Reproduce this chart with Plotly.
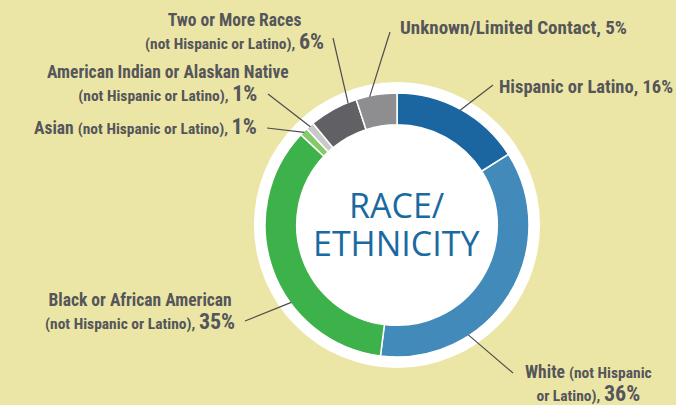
import numpy as np
import plotly.graph_objects as go

W, H = 676, 405

# ---- data ----
groups = ["Hispanic or Latino", "White", "Black or African American", "Asian",
          "American Indian or Alaskan Native", "Two or More Races", "Unknown/Limited Contact"]
shares = [16, 36, 35, 1, 1, 6, 5]
colors = ["#1B65A0", "#418AB9", "#3DB14A", "#86C96A", "#C9C9C9", "#616165", "#8E8E91"]

SMALL = '<span style="font-size:15.5px">'
PCT = '<span style="font-size:22px">'
label_text = [
    "<b>Hispanic or Latino, 16%</b>",
    "<b>White " + SMALL + "(not Hispanic</span><br>" + SMALL + "or Latino), </span>" + PCT + "36%</span></b>",
    "<b>Black or African American<br>" + SMALL + "(not Hispanic or Latino), </span>" + PCT + "35%</span></b>",
    "<b>Asian " + SMALL + "(not Hispanic or Latino), </span>" + PCT + "1%</span></b>",
    "<b>American Indian or Alaskan Native<br>" + SMALL + "(not Hispanic or Latino), </span>" + PCT + "1%</span></b>",
    "<b>Two or More Races<br>" + SMALL + "(not Hispanic or Latino), </span>" + PCT + "6%</span></b>",
    "<b>Unknown/Limited Contact, 5%</b>",
]

# ---- layout (pixels) ----
cx, cy, r_ring, r_white = 397, 225, 132, 143
hole = 0.76
# where each leader line meets the ring, as a fraction along its slice
attach = [0.5, 0.69, 0.37, 0.5, 0.5, 0.82, 0.33]
# outer end of leader line, label anchor point, xanchor, font size
label_pos = [
    ((493, 85), (497, 87), "left", 18.5),
    ((513, 373), (588, 384), "center", 17.5),
    ((245, 321), (140, 312), "center", 17.5),
    ((267, 128), (259, 127), "right", 17.5),
    ((268, 94), (168, 84), "center", 17.5),
    ((333, 38), (234, 32), "center", 17.5),
    ((390, 32), (398, 28), "left", 19),
]

TEXT_COLOR = "#55565A"
LABEL_FONT = "Liberation Sans Narrow, Roboto Condensed, DejaVu Sans Condensed, sans-serif"


def px(x):
    return x / W


def py(y):
    return 1 - y / H


def domain(r):
    return dict(x=[px(cx - r), px(cx + r)], y=[py(cy + r), py(cy - r)])


fig = go.Figure()

# white backing disc behind the ring
fig.add_trace(go.Pie(values=[1], marker=dict(colors=["white"], line=dict(width=0)),
                     domain=domain(r_white), textinfo="none", hoverinfo="skip",
                     showlegend=False, sort=False))

fig.add_trace(go.Pie(labels=groups, values=shares, hole=hole, sort=False,
                     direction="clockwise", rotation=0,
                     marker=dict(colors=colors, line=dict(color="white", width=1.5)),
                     domain=domain(r_ring), textinfo="none", showlegend=False))

# leader lines + labels
cum = np.concatenate([[0], np.cumsum(shares)]) / np.sum(shares)
shapes = []
annotations = []
for i, txt in enumerate(label_text):
    frac = cum[i] + attach[i] * (cum[i + 1] - cum[i])
    ang = 2 * np.pi * frac
    x0 = cx + (r_ring - 1) * np.sin(ang)
    y0 = cy - (r_ring - 1) * np.cos(ang)
    (x1, y1), (lx, ly), xa, fs = label_pos[i]
    shapes.append(dict(type="line", xref="paper", yref="paper",
                       x0=px(x0), y0=py(y0), x1=px(x1), y1=py(y1),
                       line=dict(color="#4D4D4F", width=1.2)))
    annotations.append(dict(text=txt, x=px(lx), y=py(ly), xref="paper", yref="paper",
                            xanchor=xa, yanchor="middle", align=xa,
                            showarrow=False, font=dict(family=LABEL_FONT, size=fs, color=TEXT_COLOR)))

# centre title, one annotation per line to keep the tight leading
for txt, yy in [("RACE/", cy - 20), ("ETHNICITY", cy + 18)]:
    annotations.append(dict(text=txt, x=px(cx), y=py(yy), xref="paper", yref="paper",
                            xanchor="center", yanchor="middle", showarrow=False,
                            font=dict(family="Open Sans, sans-serif", size=34, color="#1A6AA0")))

fig.update_layout(width=W, height=H, margin=dict(l=0, r=0, t=0, b=0),
                  paper_bgcolor="#ECE6A6", plot_bgcolor="#ECE6A6",
                  shapes=shapes, annotations=annotations)

fig.write_html("out.html", config={"displayModeBar": False},
               post_script="document.body.style.margin='0';")
